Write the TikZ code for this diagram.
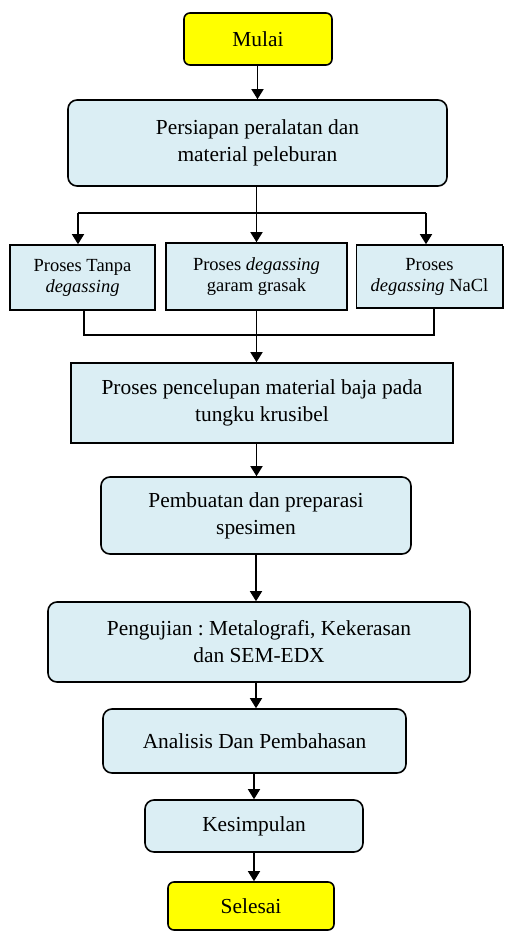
\documentclass[tikz,border=0pt]{standalone}
\usepackage{fontspec}
\setmainfont{Liberation Serif}
\frenchspacing
\usetikzlibrary{arrows.meta,shadows}
\definecolor{boxblue}{HTML}{DBEEF4}
\definecolor{startyellow}{HTML}{FFFF00}
\tikzset{
  base/.style={draw=black, line width=1.6pt, inner sep=2pt, align=center, anchor=center,
    font=\fontsize{21.4}{27}\selectfont},
  rbox/.style={base, fill=boxblue, rounded corners=9pt},
  sbox/.style={base, fill=boxblue, drop shadow={shadow xshift=1.2pt, shadow yshift=-1.2pt, fill=black, opacity=1}},
  smallbox/.style={sbox, font=\fontsize{18.5}{21}\selectfont},
  term/.style={base, fill=startyellow, rounded corners=6pt},
  conn/.style={line width=1.5pt, draw=black},
  arr/.style={conn, -{Triangle[length=10pt,width=12pt]}}
}
\begin{document}
\begin{tikzpicture}[x=1pt,y=-1pt]
\useasboundingbox (0,0) rectangle (504,931);
\node[term, minimum width=148pt, minimum height=52pt] (mulai) at (258,39) {Mulai};
\node[rbox, minimum width=379pt, minimum height=86pt] (prep) at (257.5,143) {Persiapan peralatan dan\\material peleburan};
\node[smallbox, minimum width=145pt, minimum height=65pt] (b1) at (82.5,277.5) {Proses Tanpa\\\textit{degassing}};
\node[smallbox, minimum width=181pt, minimum height=67pt] (b2) at (256.5,276.5) {Proses \textit{degassing}\\garam grasak};
\node[smallbox, minimum width=146pt, minimum height=63pt] (b3) at (429.5,276.5) {Proses\\\textit{degassing} NaCl};
\node[sbox, minimum width=382pt, minimum height=80pt] (pc) at (262,403) {Proses pencelupan material baja pada\\tungku krusibel};
\node[rbox, minimum width=310pt, minimum height=77pt] (pb) at (256,515.5) {Pembuatan dan preparasi\\spesimen};
\node[rbox, minimum width=422pt, minimum height=80pt] (pg) at (259,642) {Pengujian : Metalografi, Kekerasan\\dan SEM-EDX};
\node[rbox, minimum width=303pt, minimum height=64pt] (an) at (254.5,741) {Analisis Dan Pembahasan};
\node[rbox, minimum width=218pt, minimum height=52pt] (ks) at (254,826) {Kesimpulan};
\node[term, minimum width=166pt, minimum height=48pt] (sl) at (251,906) {Selesai};

\coordinate (sL) at (78,213);
\coordinate (sM) at (256.5,213);
\coordinate (sR) at (426,213);
\coordinate (mL) at (84,335);
\coordinate (mR) at (434,335);

\draw[arr] (mulai.south -| prep.north) -- (prep.north);
\draw[conn] (sM |- prep.south) -- (sM);
\draw[conn] (sL) -- (sR);
\draw[arr] (sL) -- (sL |- b1.north);
\draw[arr] (sM) -- (b2.north);
\draw[arr] (sR) -- (sR |- b3.north);
\draw[conn] (mL |- b1.south) -- (mL) -- (mR) -- (mR |- b3.south);
\draw[arr] (b2.south) -- (b2.south |- pc.north);
\draw[arr] (b2.south |- pc.south) -- (b2.south |- pb.north);
\draw[arr] (pb.south) -- (pb.south |- pg.north);
\draw[arr] (pb.south |- pg.south) -- (pb.south |- an.north);
\draw[arr] (ks.north |- an.south) -- (ks.north);
\draw[arr] (ks.south) -- (ks.south |- sl.north);
\end{tikzpicture}
\end{document}
